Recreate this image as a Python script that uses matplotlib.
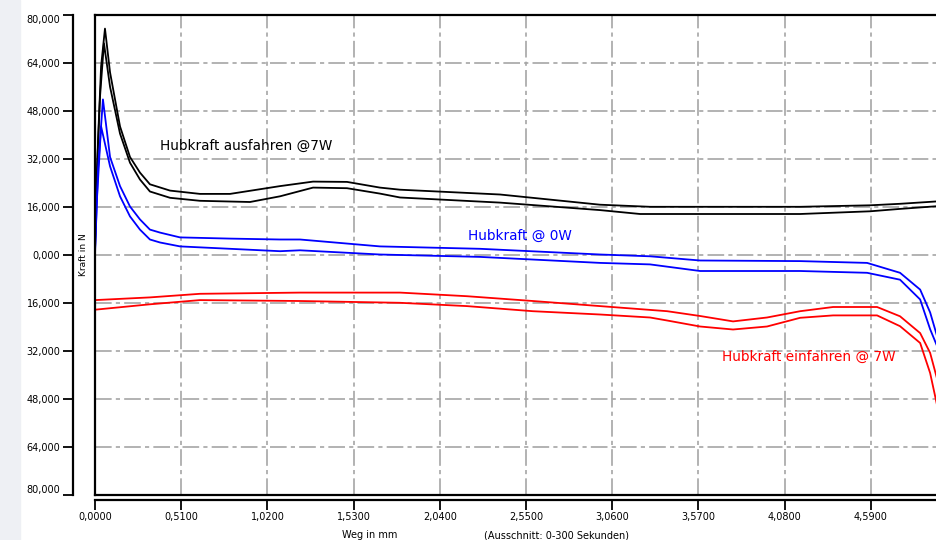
import matplotlib.pyplot as plt
from matplotlib.patches import Rectangle
from matplotlib.ticker import FuncFormatter

# Hubkraft ausfahren @7W (zwei Kurven: hin / zurueck)
x_aus_1 = [0.0, 0.018, 0.036, 0.059, 0.089, 0.148, 0.207, 0.266, 0.325, 0.444, 0.621, 0.799,
           1.095, 1.290, 1.491, 1.686, 1.805, 2.396, 2.988, 3.284, 4.172, 4.586, 4.763, 4.982, 5.1]
y_aus_1 = [4.3, 38.3, 62.7, 75.3, 60.7, 42.7, 32.5, 27.3, 23.4, 21.3, 20.2, 20.2,
           22.8, 24.3, 24.2, 22.3, 21.6, 20.0, 16.6, 15.9, 15.9, 16.4, 16.9, 17.7, 18.4]
x_aus_2 = [0.0, 0.012, 0.030, 0.053, 0.089, 0.148, 0.207, 0.266, 0.325, 0.444, 0.621, 0.917,
           1.095, 1.290, 1.491, 1.686, 1.805, 2.396, 2.988, 3.225, 4.172, 4.586, 4.763, 4.982, 5.1]
y_aus_2 = [1.4, 28.6, 52.9, 70.4, 55.9, 40.3, 30.6, 25.0, 21.0, 18.9, 17.9, 17.5,
           19.4, 22.3, 22.1, 20.3, 19.0, 17.3, 14.8, 13.5, 13.5, 14.4, 15.2, 16.1, 16.8]

# Hubkraft @ 0W
x_0w_1 = [0.0, 0.018, 0.047, 0.089, 0.148, 0.207, 0.266, 0.325, 0.385, 0.503, 0.799, 1.095,
          1.213, 1.686, 2.278, 2.988, 3.284, 3.580, 4.172, 4.568, 4.763, 4.882, 4.941, 4.982, 5.1]
y_0w_1 = [1.4, 28.6, 51.7, 32.5, 22.8, 16.0, 11.7, 8.3, 7.3, 5.7, 5.3, 5.0,
          5.0, 2.7, 1.9, 0.0, -0.6, -2.0, -2.2, -2.8, -6.1, -11.7, -19.3, -27.2, -45.0]
x_0w_2 = [0.0, 0.012, 0.036, 0.089, 0.148, 0.207, 0.266, 0.325, 0.385, 0.503, 1.095, 1.213,
          1.686, 2.278, 2.988, 3.284, 3.580, 4.172, 4.568, 4.763, 4.882, 4.941, 4.982, 5.1]
y_0w_2 = [0.0, 18.9, 42.7, 29.4, 19.4, 12.7, 8.3, 5.0, 4.0, 2.7, 1.1, 1.4,
          0.0, -0.8, -2.8, -3.3, -5.5, -5.5, -6.1, -8.4, -15.0, -24.9, -30.5, -48.0]

# Hubkraft einfahren @ 7W
x_ein_1 = [0.0, 0.325, 0.621, 1.213, 1.805, 2.2, 2.59, 2.988, 3.385, 3.580, 3.775, 3.976,
           4.172, 4.367, 4.627, 4.763, 4.882, 4.941, 4.982, 5.1]
y_ein_1 = [-15.2, -14.3, -13.1, -12.7, -12.7, -13.9, -15.5, -17.2, -18.9, -20.5, -22.3, -21.0,
           -18.9, -17.5, -17.5, -20.6, -26.2, -32.8, -41.4, -62.0]
x_ein_2 = [0.0, 0.325, 0.621, 1.213, 1.805, 2.2, 2.59, 2.988, 3.284, 3.385, 3.580, 3.775,
           3.976, 4.172, 4.367, 4.627, 4.763, 4.882, 4.941, 4.982, 5.1]
y_ein_2 = [-18.4, -16.6, -15.2, -15.5, -16.1, -17.2, -18.9, -20.0, -21.0, -22.0, -24.0, -25.0,
           -24.0, -21.1, -20.3, -20.3, -23.9, -29.5, -39.5, -50.2, -70.0]

x_ticks = [0.0, 0.51, 1.02, 1.53, 2.04, 2.55, 3.06, 3.57, 4.08, 4.59, 5.10]
y_ticks = [-80, -64, -48, -32, -16, 0, 16, 32, 48, 64, 80]

fig = plt.figure(figsize=(9.37, 5.40), dpi=100)
fig.add_artist(Rectangle((0, 0), 20 / 937, 1, transform=fig.transFigure,
                         color='#eef0f4', zorder=0))

ax = fig.add_axes([95 / 937, 45.5 / 540, 862 / 937, 480 / 540])
ax.set_xlim(0, 5.1)
ax.set_ylim(-80, 80)
ax.set_xticks(x_ticks)
ax.set_yticks(y_ticks)
ax.tick_params(length=0, labelbottom=False, labelleft=False)
ax.grid(True, color='#a6a6a6', lw=1.2, linestyle=(0, (10, 2.5, 2.5, 2.5)))
ax.spines['right'].set_visible(False)
for s in ['top', 'left', 'bottom']:
    ax.spines[s].set_linewidth(1.6)

lw = 1.3
ax.plot(x_aus_1, y_aus_1, color='black', lw=lw)
ax.plot(x_aus_2, y_aus_2, color='black', lw=lw)
ax.plot(x_0w_1, y_0w_1, color='#0000ff', lw=lw)
ax.plot(x_0w_2, y_0w_2, color='#0000ff', lw=lw)
ax.plot(x_ein_1, y_ein_1, color='#ff0000', lw=lw)
ax.plot(x_ein_2, y_ein_2, color='#ff0000', lw=lw)

ax.text(0.385, 36.3, 'Hubkraft ausfahren @7W', color='black', fontsize=9.8, va='center')
ax.text(2.207, 6.3, 'Hubkraft @ 0W', color='#0000ff', fontsize=9.8, va='center')
ax.text(3.71, -34.0, 'Hubkraft einfahren @ 7W', color='#ff0000', fontsize=9.8, va='center')

# separate Achsen (versetzt wie im Original)
secx = ax.secondary_xaxis(-5 / 480)
secx.set_xticks(x_ticks)
secx.xaxis.set_major_formatter(FuncFormatter(lambda v, p: f"{v:.4f}".replace('.', ',')))
secx.tick_params(direction='out', length=7, width=1.3, labelsize=7, pad=2)
secx.spines['bottom'].set_linewidth(1.6)

secy = ax.secondary_yaxis(-22 / 862)
secy.set_yticks(y_ticks)
secy.yaxis.set_major_formatter(FuncFormatter(lambda v, p: f"{abs(v):.3f}".replace('.', ',')))
secy.tick_params(direction='out', length=7, width=1.3, labelsize=7, pad=2)
secy.spines['left'].set_linewidth(1.6)
ticks = secy.yaxis.get_major_ticks()
ticks[0].label1.set_va('bottom')
ticks[-1].label1.set_va('top')

fig.text(84 / 937, 1 - 255 / 540, 'Kraft in N', rotation=90, fontsize=6.5,
         ha='center', va='center')
fig.text(370 / 937, 1 - 535 / 540, 'Weg in mm', fontsize=7, ha='center', va='center')
fig.text(557 / 937, 1 - 535 / 540, '(Ausschnitt: 0-300 Sekunden)', fontsize=7,
         ha='center', va='center')

fig.savefig('out.png', dpi=100)
